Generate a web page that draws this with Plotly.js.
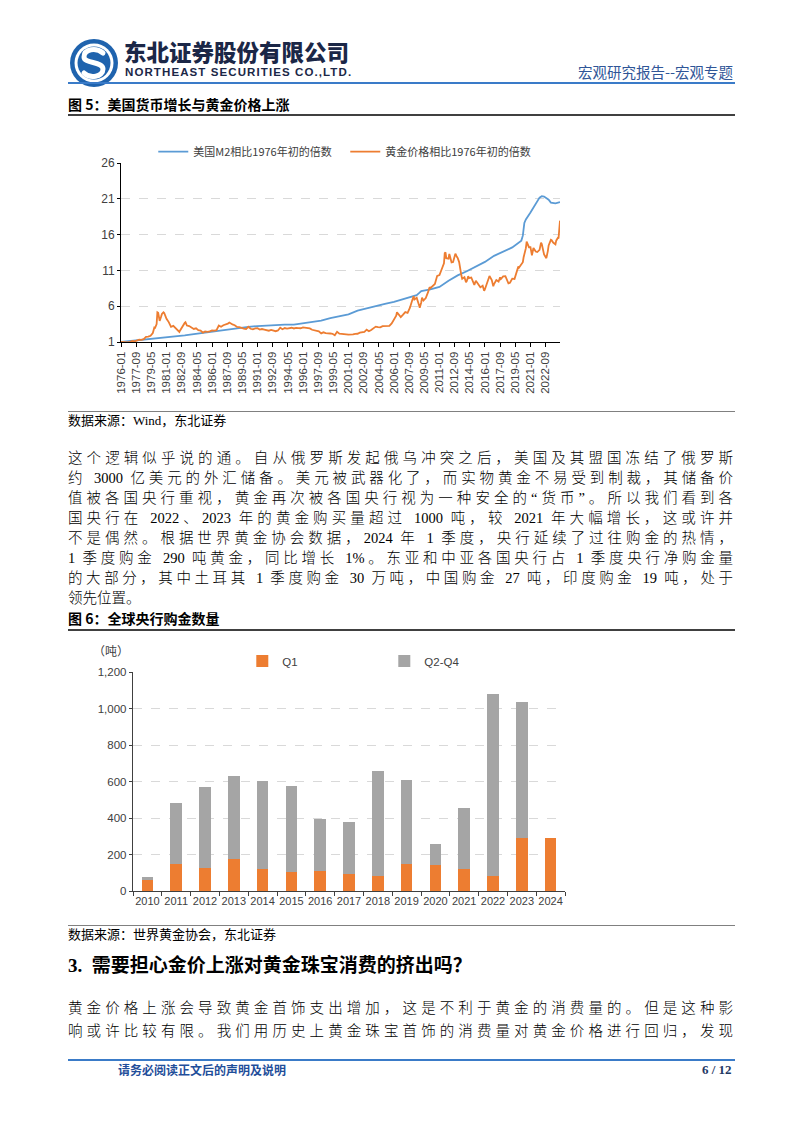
<!DOCTYPE html>
<html><head><meta charset="utf-8">
<script src="https://cdn.plot.ly/plotly-3.0.1.min.js"></script>
<style>
body{margin:0;background:#fff;}
#page{position:relative;width:802px;height:1133px;overflow:hidden;background:#fff;font-family:"Liberation Serif","Noto Sans CJK SC",serif;color:#000;}
.t{position:absolute;white-space:nowrap;}
.rule{position:absolute;left:68px;width:667px;}
.para{position:absolute;left:68px;width:665px;font-size:14.5px;font-weight:300;height:20px;line-height:20px;text-align:justify;text-align-last:justify;text-justify:inter-character;}
</style>
</head><body>
<div id="page">
  <!-- header -->
  <svg class="t" style="left:69px;top:38px" width="50" height="50" viewBox="0 0 50 50">
    <circle cx="25" cy="25" r="24" fill="#1F63AE"/>
    <circle cx="25" cy="25" r="19.5" fill="#fff"/>
    <circle cx="25" cy="25" r="16.5" fill="#1F63AE"/>
    <path d="M34,15 C27,9 15,11 15,19 C15,26 34,23 34,31 C34,39 21,41 15,35" stroke="#fff" stroke-width="5" fill="none" stroke-linecap="round"/>
  </svg>
  <div class="t" style="left:124px;top:40px;font-family:'Noto Sans CJK SC';font-weight:900;font-size:22.5px;line-height:22px;color:#1B2747">东北证券股份有限公司</div>
  <div class="t" style="left:125px;top:67px;font-family:'Liberation Sans';font-weight:700;font-size:11.5px;line-height:11px;color:#1B2747;letter-spacing:1.1px">NORTHEAST SECURITIES CO.,LTD.</div>
  <div class="t" style="left:578px;top:62px;font-family:'Noto Sans CJK SC';font-size:14.5px;line-height:20px;color:#2F5597">宏观研究报告--宏观专题</div>
  <div class="rule" style="top:82px;height:2px;background:#3A7BC8"></div>

  <!-- figure 5 -->
  <div class="t" style="left:68px;top:94px;font-family:'Noto Sans CJK SC';font-weight:700;font-size:14px;line-height:20px">图 5：美国货币增长与黄金价格上涨</div>
  <div class="rule" style="top:114px;height:1.5px;background:#404040"></div>
  <div id="chart1" class="t" style="left:68px;top:125px;width:667px;height:280px"></div>
  <div class="rule" style="top:411px;height:1px;background:#808080"></div>
  <div class="t" style="left:68px;top:411px;font-size:13px;line-height:20px">数据来源：Wind，东北证券</div>

  <div class="para" style="top:448px">这个逻辑似乎说的通。自从俄罗斯发起俄乌冲突之后，美国及其盟国冻结了俄罗斯</div>
  <div class="para" style="top:468px">约 3000 亿美元的外汇储备。美元被武器化了，而实物黄金不易受到制裁，其储备价</div>
  <div class="para" style="top:488px">值被各国央行重视，黄金再次被各国央行视为一种安全的“货币”。所以我们看到各</div>
  <div class="para" style="top:508px">国央行在 2022、2023 年的黄金购买量超过 1000 吨，较 2021 年大幅增长，这或许并</div>
  <div class="para" style="top:528px">不是偶然。根据世界黄金协会数据，2024 年 1 季度，央行延续了过往购金的热情，</div>
  <div class="para" style="top:548px">1 季度购金 290 吨黄金，同比增长 1%。东亚和中亚各国央行占 1 季度央行净购金量</div>
  <div class="para" style="top:568px">的大部分，其中土耳其 1 季度购金 30 万吨，中国购金 27 吨，印度购金 19 吨，处于</div>
  <div class="para" style="top:588px;text-align-last:left">领先位置。</div>

  <!-- figure 6 -->
  <div class="t" style="left:68px;top:608px;font-family:'Noto Sans CJK SC';font-weight:700;font-size:14px;line-height:20px">图 6：全球央行购金数量</div>
  <div class="rule" style="top:629px;height:1.5px;background:#404040"></div>
  <div id="chart2" class="t" style="left:68px;top:635px;width:667px;height:285px"></div>
  <div class="rule" style="top:925px;height:1px;background:#808080"></div>
  <div class="t" style="left:68px;top:925px;font-size:13px;line-height:20px">数据来源：世界黄金协会，东北证券</div>

  <div class="t" style="left:68px;top:953px;font-family:'Liberation Serif','Noto Sans CJK SC';font-weight:700;font-size:19px;line-height:26px">3.&nbsp;&nbsp;需要担心金价上涨对黄金珠宝消费的挤出吗？</div>
  <div class="para" style="top:998px">黄金价格上涨会导致黄金首饰支出增加，这是不利于黄金的消费量的。但是这种影</div>
  <div class="para" style="top:1021px">响或许比较有限。我们用历史上黄金珠宝首饰的消费量对黄金价格进行回归，发现</div>

  <!-- footer -->
  <div class="rule" style="top:1059px;height:1.5px;background:#3A7BC8"></div>
  <div class="t" style="left:118px;top:1061px;font-family:'Noto Sans CJK SC';font-weight:700;font-size:12px;line-height:18px;color:#1F4E9A">请务必阅读正文后的声明及说明</div>
  <div class="t" style="left:702px;top:1061px;font-family:'Liberation Serif';font-weight:700;font-size:13px;line-height:18px;color:#1F3864">6 / 12</div>
</div>

<script>
// ---------- Figure 5 data ----------
const m2Name = '美国M2相比1976年初的倍数';
const goldName = '黄金价格相比1976年初的倍数';
const m2Dates = ['1976-01','1977-01','1978-01','1979-01','1980-01','1981-01','1982-01','1983-01','1984-01','1985-01','1986-01','1987-01','1988-01','1989-01','1990-01','1991-01','1992-01','1993-01','1994-01','1995-01','1996-01','1997-01','1998-01','1999-01','2000-01','2001-01','2002-01','2003-01','2004-01','2005-01','2006-01','2007-01','2008-01','2008-07','2008-10','2009-01','2010-01','2011-01','2012-01','2013-01','2014-01','2015-01','2016-01','2017-01','2018-01','2019-01','2020-01','2020-03','2020-05','2020-07','2021-01','2021-07','2022-01','2022-04','2022-07','2023-01','2023-04','2023-10','2024-01','2024-04'];
const m2Values = [1.00,1.12,1.25,1.36,1.46,1.57,1.73,1.91,2.10,2.27,2.46,2.69,2.80,2.94,3.10,3.23,3.33,3.38,3.43,3.44,3.59,3.76,3.98,4.33,4.58,4.87,5.37,5.71,5.97,6.32,6.59,6.95,7.38,7.55,7.82,8.12,8.35,8.69,9.55,10.30,10.88,11.52,12.19,13.03,13.63,14.21,15.16,15.85,17.62,18.11,19.09,20.18,21.16,21.36,21.31,20.87,20.47,20.37,20.47,20.54];

const goldDates = ['1976-01','1976-04','1976-07','1976-10','1977-01','1977-04','1977-07','1977-10','1978-01','1978-04','1978-07','1978-10','1979-01','1979-04','1979-07','1979-09','1979-10','1979-12','1980-01','1980-02','1980-03','1980-04','1980-06','1980-07','1980-09','1980-10','1980-12','1981-01','1981-04','1981-07','1981-10','1982-01','1982-04','1982-06','1982-07','1982-10','1983-01','1983-02','1983-04','1983-07','1983-10','1984-01','1984-04','1984-07','1984-10','1985-01','1985-04','1985-07','1985-10','1986-01','1986-04','1986-07','1986-10','1987-01','1987-04','1987-07','1987-10','1987-12','1988-01','1988-04','1988-07','1988-10','1989-01','1989-04','1989-07','1989-10','1990-01','1990-04','1990-07','1990-10','1991-01','1991-04','1991-07','1991-10','1992-01','1992-04','1992-07','1992-10','1993-01','1993-04','1993-07','1993-10','1994-01','1994-04','1994-07','1994-10','1995-01','1995-04','1995-07','1995-10','1996-01','1996-04','1996-07','1996-10','1997-01','1997-04','1997-07','1997-10','1998-01','1998-04','1998-07','1998-10','1999-01','1999-04','1999-07','1999-10','2000-01','2000-04','2000-07','2000-10','2001-01','2001-04','2001-07','2001-10','2002-01','2002-04','2002-07','2002-10','2003-01','2003-04','2003-07','2003-10','2004-01','2004-04','2004-07','2004-10','2005-01','2005-04','2005-07','2005-10','2006-01','2006-04','2006-05','2006-07','2006-10','2007-01','2007-04','2007-07','2007-10','2008-01','2008-03','2008-04','2008-07','2008-10','2008-11','2009-01','2009-02','2009-04','2009-07','2009-10','2009-12','2010-01','2010-04','2010-07','2010-10','2011-01','2011-04','2011-07','2011-08','2011-09','2011-10','2011-12','2012-01','2012-02','2012-04','2012-05','2012-07','2012-10','2012-12','2013-01','2013-03','2013-04','2013-06','2013-07','2013-10','2013-12','2014-01','2014-03','2014-04','2014-07','2014-10','2014-11','2015-01','2015-04','2015-07','2015-10','2015-12','2016-01','2016-04','2016-07','2016-10','2016-12','2017-01','2017-04','2017-07','2017-09','2017-10','2018-01','2018-04','2018-07','2018-08','2018-10','2019-01','2019-04','2019-07','2019-09','2019-10','2020-01','2020-03','2020-04','2020-07','2020-08','2020-10','2020-11','2021-01','2021-03','2021-05','2021-07','2021-08','2021-10','2022-01','2022-03','2022-04','2022-07','2022-09','2022-10','2022-12','2023-01','2023-04','2023-05','2023-07','2023-10','2023-11','2023-12','2024-01','2024-02','2024-03','2024-04'];
const goldValues = [1.00,0.98,0.93,0.95,1.02,1.14,1.09,1.21,1.33,1.30,1.40,1.73,1.74,1.87,2.26,3.03,2.99,3.50,5.15,5.08,4.23,3.95,4.58,4.92,5.15,5.05,4.52,4.25,3.78,3.12,3.26,2.93,2.54,2.40,2.61,3.24,3.66,3.75,3.30,3.22,3.00,2.82,2.91,2.66,2.60,2.31,2.48,2.42,2.49,2.63,2.60,2.66,3.29,3.12,3.34,3.44,3.57,3.72,3.64,3.45,3.34,3.11,3.08,2.94,2.86,2.80,3.13,2.85,2.76,2.90,2.92,2.73,2.81,2.73,2.70,2.58,2.69,2.63,2.51,2.61,2.99,2.78,2.95,2.88,2.94,2.99,2.89,2.98,2.95,2.92,3.05,3.00,2.92,2.90,2.71,2.63,2.47,2.48,2.21,2.35,2.24,2.26,2.19,2.15,1.95,2.43,2.17,2.14,2.15,2.06,2.02,1.99,2.05,2.13,2.15,2.31,2.40,2.42,2.72,2.50,2.68,2.89,3.15,3.08,3.04,3.21,3.24,3.27,3.24,3.59,4.19,4.66,5.16,4.83,4.47,4.82,5.18,5.08,5.76,6.79,7.39,6.94,7.17,6.16,5.80,6.55,7.20,6.79,7.13,7.96,8.66,8.53,8.76,9.11,10.24,10.35,11.16,12.00,13.40,13.53,12.71,12.61,12.63,13.31,12.60,12.11,12.16,13.34,12.89,12.75,12.16,11.35,10.24,9.82,10.05,9.35,9.50,10.20,9.92,10.01,9.33,8.98,9.55,9.15,8.63,8.85,8.15,8.37,9.48,10.21,9.66,8.79,9.10,9.66,9.44,10.04,9.78,10.16,10.19,9.45,9.18,9.27,9.85,9.81,10.79,11.53,11.41,11.91,12.15,12.83,14.10,15.02,14.50,14.24,14.25,13.11,14.12,13.80,13.63,13.56,13.87,14.87,14.68,13.23,12.83,12.71,13.73,14.49,15.27,15.21,14.89,14.63,15.15,15.50,15.53,15.45,16.49,17.95];

const fig5TickLabels = ['1976-01','1977-09','1979-05','1981-01','1982-09','1984-05','1986-01','1987-09','1989-05','1991-01','1992-09','1994-05','1996-01','1997-09','1999-05','2001-01','2002-09','2004-05','2006-01','2007-09','2009-05','2011-01','2012-09','2014-05','2016-01','2017-09','2019-05','2021-01','2022-09'];
const fig5YTicks = [1,6,11,16,21,26];

// ---------- Figure 6 data ----------
const years = ['2010','2011','2012','2013','2014','2015','2016','2017','2018','2019','2020','2021','2022','2023','2024'];
const q1 = [60,146,128,173,119,106,109,95,84,148,142,120,84,290,290];
const q2q4 = [18,334,441,457,483,472,287,283,573,458,113,333,998,747,0];
const fig6YTicks = [0,200,400,600,800,1000,1200];

const cjk = '"Noto Sans CJK SC", sans-serif';
const sans = '"Liberation Sans", Arial, sans-serif';

Plotly.newPlot('chart1', [
  {x: m2Dates, y: m2Values, name: m2Name, type: 'scatter', mode: 'lines', line: {color: '#5B9BD5', width: 1.8}},
  {x: goldDates, y: goldValues, name: goldName, type: 'scatter', mode: 'lines', line: {color: '#ED7D31', width: 1.8}}
], {
  width: 667, height: 280,
  margin: {l: 52.7, r: 175, t: 29, b: 62.7},
  paper_bgcolor: 'rgba(0,0,0,0)', plot_bgcolor: 'rgba(0,0,0,0)',
  showlegend: true,
  legend: {orientation: 'h', x: 0.0735, xanchor: 'left', y: 1.064, yanchor: 'middle',
           font: {family: cjk, size: 11, color: '#404040'}, entrywidth: 147, entrywidthmode: 'pixels',
           bgcolor: 'rgba(0,0,0,0)'},
  xaxis: {type: 'date', range: ['1976-01-01', '2024-04-01'],
          tickmode: 'array', tickvals: fig5TickLabels, ticktext: fig5TickLabels, tickangle: -90,
          tickfont: {family: sans, size: 11.5, color: '#404040'},
          showline: true, linecolor: '#000', linewidth: 1, ticks: 'outside', ticklen: 4, tickcolor: '#000',
          showgrid: false, zeroline: false},
  yaxis: {range: [1, 26], tickmode: 'array', tickvals: fig5YTicks,
          tickfont: {family: sans, size: 12, color: '#404040'},
          showline: true, linecolor: '#000', linewidth: 1, ticks: 'outside', ticklen: 3, tickcolor: '#000',
          showgrid: true, gridcolor: '#D9D9D9', griddash: 'dash', gridwidth: 1, zeroline: false}
}, {staticPlot: true, displayModeBar: false});

Plotly.newPlot('chart2', [
  {x: years, y: q1, name: 'Q1', type: 'bar', marker: {color: '#ED7D31'}},
  {x: years, y: q2q4, name: 'Q2-Q4', type: 'bar', marker: {color: '#A5A5A5'}}
], {
  width: 667, height: 285,
  margin: {l: 64.7, r: 170, t: 36.8, b: 29},
  paper_bgcolor: 'rgba(0,0,0,0)', plot_bgcolor: 'rgba(0,0,0,0)',
  barmode: 'stack', bargap: 0.595,
  showlegend: true,
  legend: {orientation: 'h', x: 0.253, xanchor: 'left', y: 1.05, yanchor: 'middle', traceorder: 'normal',
           font: {family: sans, size: 11.5, color: '#404040'}, entrywidth: 97, entrywidthmode: 'pixels',
           bgcolor: 'rgba(0,0,0,0)'},
  annotations: [{text: '（吨）', xref: 'paper', yref: 'paper', x: -0.05, y: 1.1, xanchor: 'center', yanchor: 'middle',
                 showarrow: false, font: {family: cjk, size: 12, color: '#404040'}}],
  xaxis: {type: 'category', tickangle: 0, tickfont: {family: sans, size: 11, color: '#404040'},
          showline: true, linecolor: '#404040', linewidth: 1.2, ticks: 'outside', ticklen: 4, tickcolor: '#404040',
          tickson: 'boundaries', showgrid: false, zeroline: false},
  yaxis: {range: [0, 1200], tickmode: 'array', tickvals: fig6YTicks, tickformat: ',',
          tickfont: {family: sans, size: 11.5, color: '#404040'},
          showline: true, linecolor: '#404040', linewidth: 1.2, ticks: 'outside', ticklen: 3, tickcolor: '#404040',
          showgrid: true, gridcolor: '#D9D9D9', griddash: 'dash', gridwidth: 1, zeroline: false}
}, {staticPlot: true, displayModeBar: false});
</script>
</body></html>
